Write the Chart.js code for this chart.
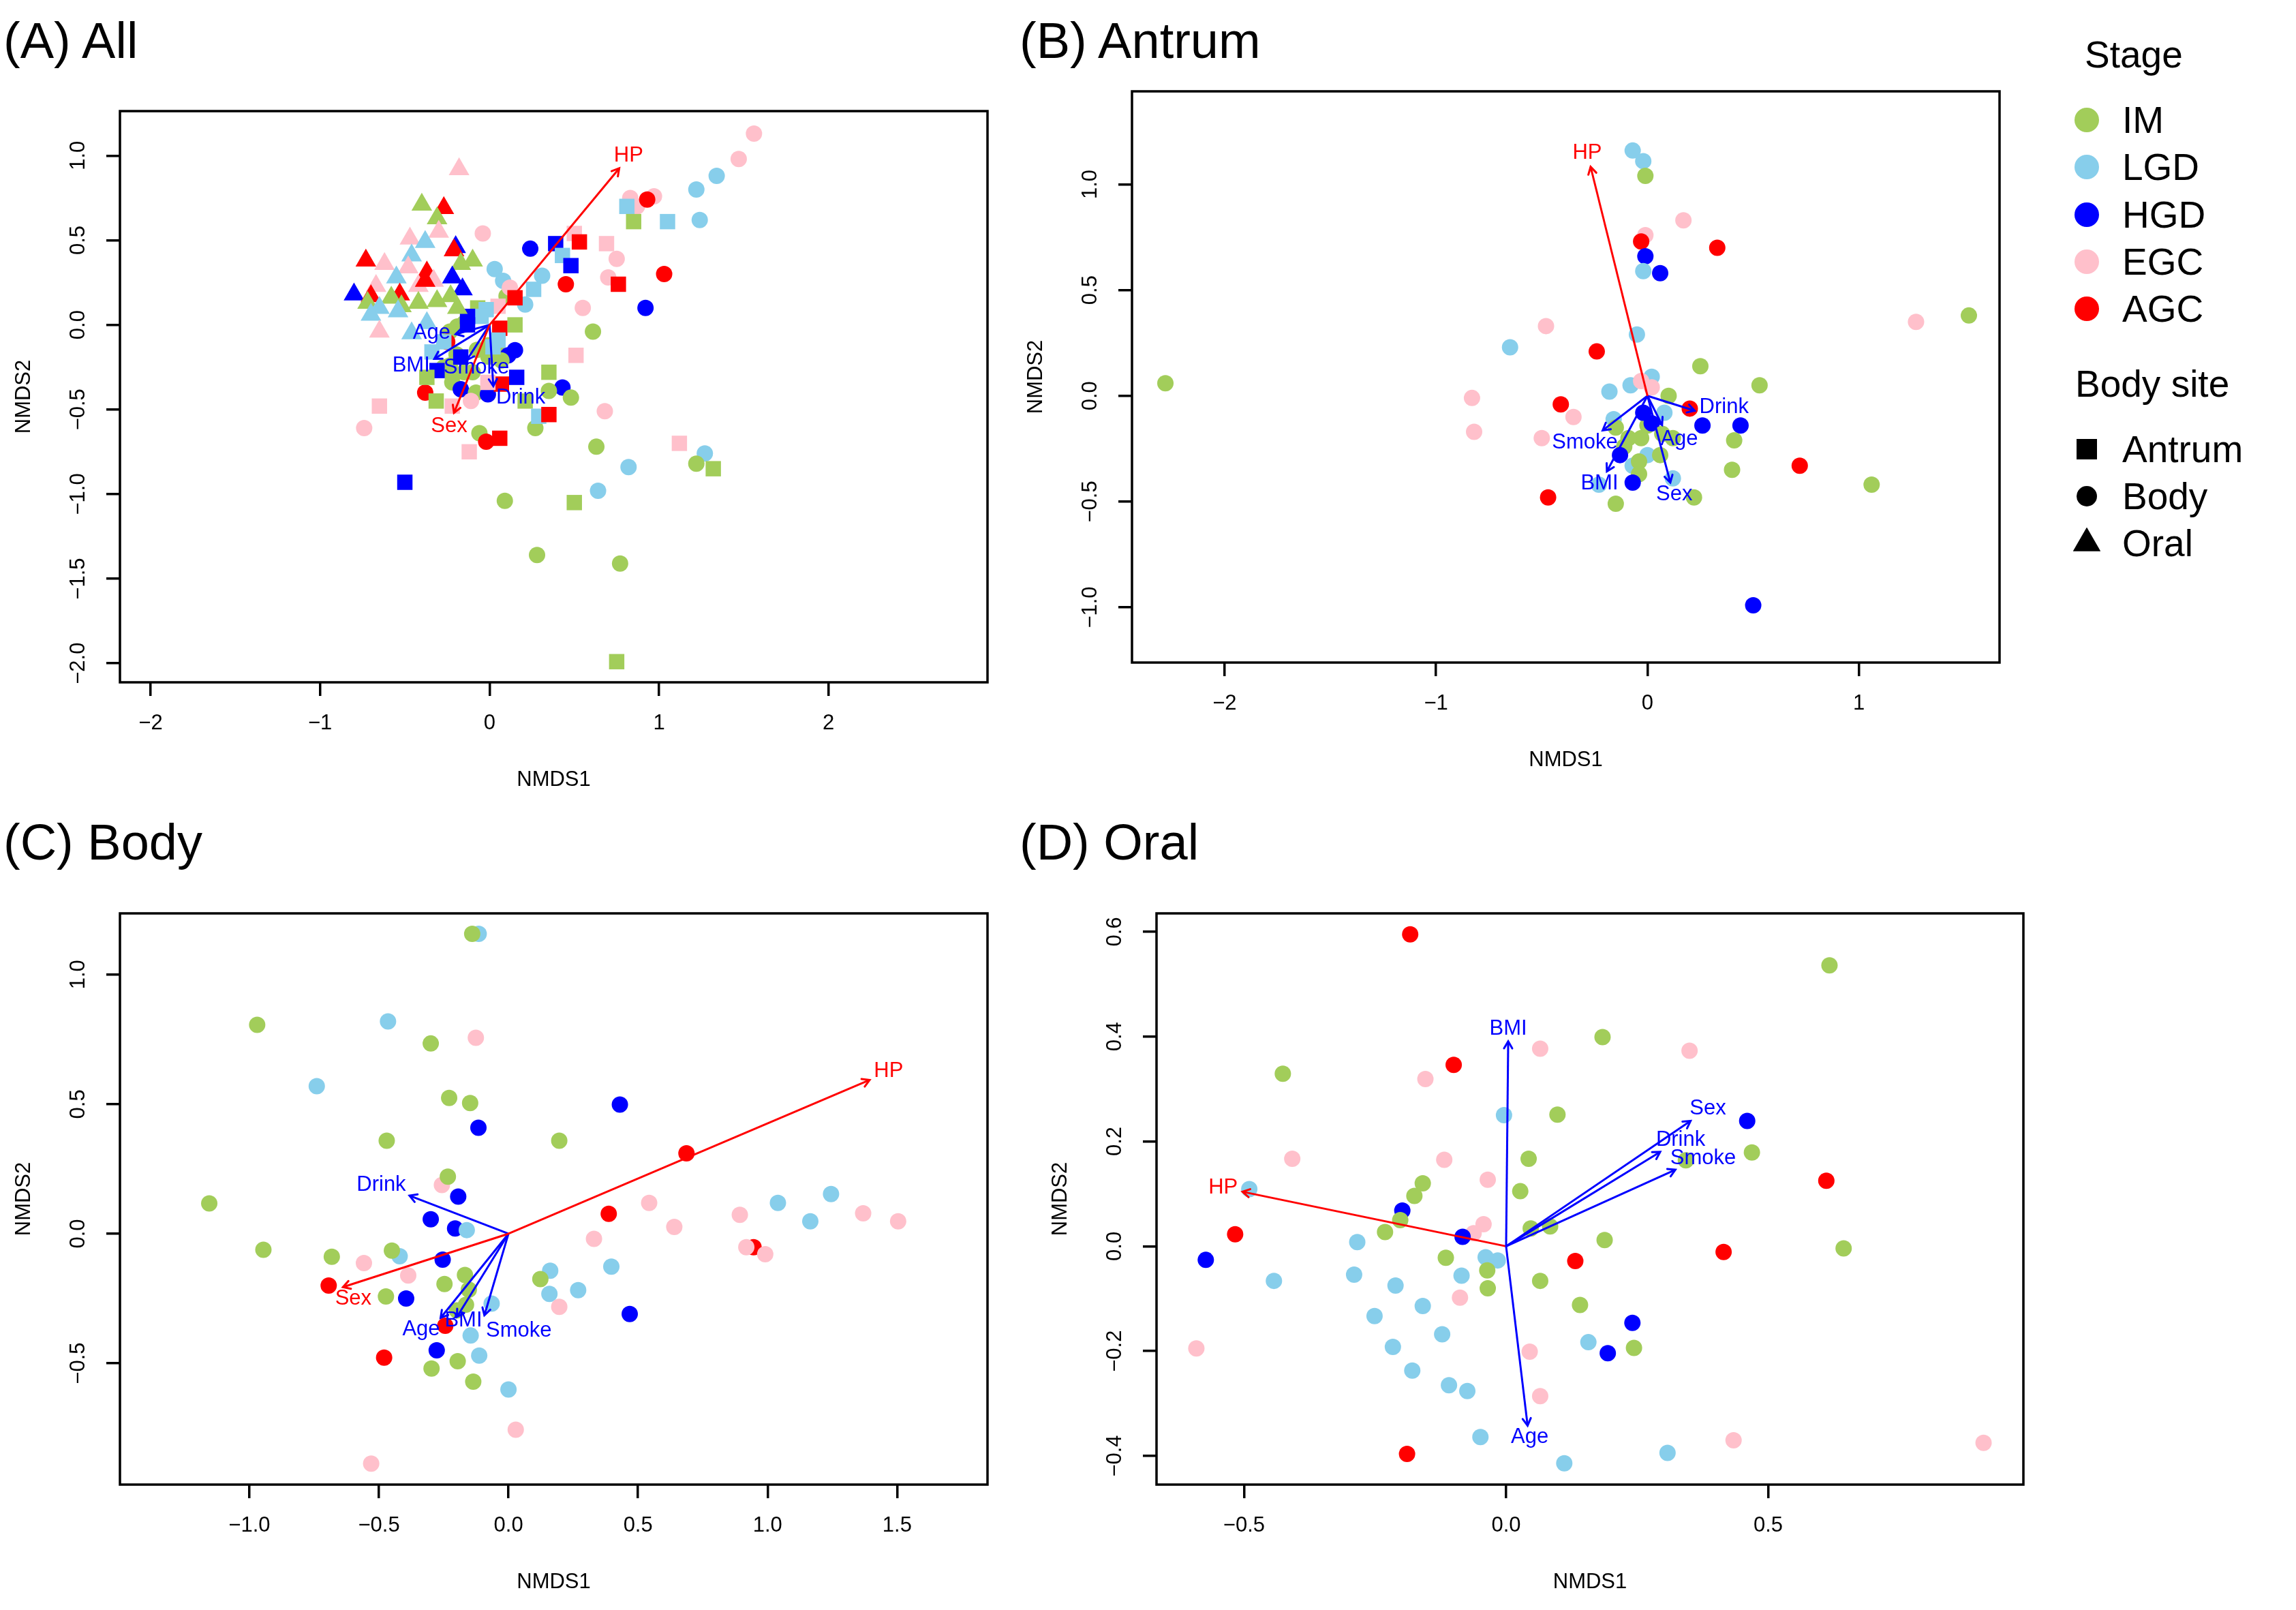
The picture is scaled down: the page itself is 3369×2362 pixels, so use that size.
<!DOCTYPE html>
<html>
<head>
<meta charset="utf-8">
<title>NMDS ordination by stage and body site</title>
<script src="https://cdn.jsdelivr.net/npm/chart.js@4.4.1/dist/chart.umd.min.js"></script>
<style>
  html, body { margin: 0; padding: 0; background: #fff; }
  #page { position: relative; width: 3369px; height: 2362px; overflow: hidden;
          font-family: "Liberation Sans", Arial, Helvetica, sans-serif; color: #000; }
  #page canvas { position: absolute; }
  .panel-title { position: absolute; font-size: 74px; line-height: 74px; white-space: nowrap; }
  .lg-text { position: absolute; font-size: 55px; line-height: 55px; white-space: nowrap; transform: translateY(-50%); }
  .lg-mark { position: absolute; }
</style>
</head>
<body>
<div id="page"></div>
<script>
// ---- data ----
const STAGES = ['IM', 'LGD', 'HGD', 'EGC', 'AGC'];
const SITES = ['Antrum', 'Body', 'Oral'];

// (A) All samples: [NMDS1, NMDS2, stage, site]
const ALL_POINTS = [
  [1.56, 1.13, 'EGC', 'Body'], [1.47, 0.98, 'EGC', 'Body'], [1.34, 0.88, 'LGD', 'Body'],
  [1.22, 0.80, 'LGD', 'Body'], [1.24, 0.62, 'LGD', 'Body'], [0.83, 0.75, 'EGC', 'Body'],
  [0.97, 0.76, 'EGC', 'Body'], [0.87, 0.70, 'EGC', 'Body'], [0.93, 0.74, 'AGC', 'Body'],
  [-0.04, 0.54, 'EGC', 'Body'], [0.24, 0.45, 'HGD', 'Body'], [0.75, 0.39, 'EGC', 'Body'],
  [1.03, 0.30, 'AGC', 'Body'], [0.70, 0.28, 'EGC', 'Body'], [0.45, 0.24, 'AGC', 'Body'],
  [0.31, 0.29, 'LGD', 'Body'], [0.03, 0.33, 'LGD', 'Body'], [0.08, 0.26, 'LGD', 'Body'],
  [0.10, 0.17, 'IM', 'Body'], [0.12, 0.22, 'EGC', 'Body'], [0.21, 0.12, 'LGD', 'Body'],
  [0.55, 0.10, 'EGC', 'Body'], [0.92, 0.10, 'HGD', 'Body'], [0.61, -0.04, 'IM', 'Body'],
  [-0.19, -0.01, 'IM', 'Body'], [-0.15, 0.01, 'IM', 'Body'], [-0.235, -0.04, 'IM', 'Body'],
  [0.047, -0.08, 'LGD', 'Body'], [0.047, -0.148, 'LGD', 'Body'], [-0.007, -0.12, 'IM', 'Body'],
  [-0.074, -0.148, 'IM', 'Body'], [-0.195, -0.175, 'IM', 'Body'], [-0.007, -0.188, 'IM', 'Body'],
  [0.05, -0.15, 'IM', 'Body'], [0.15, -0.15, 'HGD', 'Body'], [0.11, -0.18, 'HGD', 'Body'],
  [0.07, -0.21, 'IM', 'Body'], [-0.27, -0.25, 'IM', 'Body'], [-0.235, -0.24, 'IM', 'Body'],
  [-0.22, -0.30, 'IM', 'Body'], [-0.15, -0.28, 'IM', 'Body'], [-0.10, -0.28, 'IM', 'Body'],
  [-0.22, -0.34, 'IM', 'Body'], [-0.17, -0.38, 'HGD', 'Body'], [-0.08, -0.40, 'IM', 'Body'],
  [-0.01, -0.41, 'HGD', 'Body'], [-0.11, -0.45, 'EGC', 'Body'], [-0.25, -0.10, 'AGC', 'Body'],
  [-0.38, -0.40, 'AGC', 'Body'], [0.43, -0.37, 'HGD', 'Body'], [0.35, -0.39, 'IM', 'Body'],
  [0.48, -0.43, 'IM', 'Body'], [0.68, -0.51, 'EGC', 'Body'], [0.27, -0.61, 'IM', 'Body'],
  [-0.06, -0.64, 'IM', 'Body'], [-0.02, -0.69, 'AGC', 'Body'], [0.63, -0.72, 'IM', 'Body'],
  [0.82, -0.84, 'LGD', 'Body'], [1.27, -0.76, 'LGD', 'Body'], [1.22, -0.82, 'IM', 'Body'],
  [0.64, -0.98, 'LGD', 'Body'], [0.09, -1.04, 'IM', 'Body'], [0.28, -1.36, 'IM', 'Body'],
  [0.77, -1.41, 'IM', 'Body'], [-0.74, -0.61, 'EGC', 'Body'],
  [0.50, 0.54, 'EGC', 'Antrum'], [0.39, 0.48, 'HGD', 'Antrum'], [0.53, 0.49, 'AGC', 'Antrum'],
  [0.43, 0.41, 'LGD', 'Antrum'], [0.48, 0.35, 'HGD', 'Antrum'], [0.69, 0.48, 'EGC', 'Antrum'],
  [0.76, 0.24, 'AGC', 'Antrum'], [0.81, 0.70, 'LGD', 'Antrum'], [0.85, 0.61, 'IM', 'Antrum'],
  [1.05, 0.61, 'LGD', 'Antrum'], [0.26, 0.21, 'LGD', 'Antrum'], [0.15, 0.16, 'AGC', 'Antrum'],
  [0.05, 0.11, 'EGC', 'Antrum'], [-0.07, 0.10, 'IM', 'Antrum'], [-0.02, 0.09, 'LGD', 'Antrum'],
  [-0.05, 0.05, 'LGD', 'Antrum'], [-0.13, 0.05, 'HGD', 'Antrum'], [-0.13, 0.00, 'HGD', 'Antrum'],
  [0.15, 0.00, 'IM', 'Antrum'], [0.06, -0.02, 'AGC', 'Antrum'], [0.05, -0.09, 'LGD', 'Antrum'],
  [0.02, -0.13, 'LGD', 'Antrum'], [-0.27, -0.10, 'LGD', 'Antrum'], [-0.34, -0.16, 'LGD', 'Antrum'],
  [-0.17, -0.19, 'HGD', 'Antrum'], [-0.31, -0.27, 'HGD', 'Antrum'], [-0.37, -0.31, 'IM', 'Antrum'],
  [0.16, -0.31, 'HGD', 'Antrum'], [0.35, -0.28, 'IM', 'Antrum'], [0.07, -0.35, 'AGC', 'Antrum'],
  [-0.01, -0.34, 'EGC', 'Antrum'], [0.21, -0.45, 'IM', 'Antrum'], [0.29, -0.54, 'LGD', 'Antrum'],
  [0.35, -0.53, 'AGC', 'Antrum'], [0.06, -0.67, 'AGC', 'Antrum'], [-0.12, -0.75, 'EGC', 'Antrum'],
  [-0.22, -0.48, 'EGC', 'Antrum'], [-0.315, -0.45, 'IM', 'Antrum'], [-0.65, -0.48, 'EGC', 'Antrum'],
  [-0.50, -0.93, 'HGD', 'Antrum'], [0.51, -0.18, 'EGC', 'Antrum'], [1.12, -0.70, 'EGC', 'Antrum'],
  [1.32, -0.85, 'IM', 'Antrum'], [0.50, -1.05, 'IM', 'Antrum'], [0.75, -1.99, 'IM', 'Antrum'],
  [-0.18, 0.92, 'EGC', 'Oral'], [-0.40, 0.71, 'IM', 'Oral'], [-0.27, 0.69, 'AGC', 'Oral'],
  [-0.31, 0.63, 'IM', 'Oral'], [-0.47, 0.51, 'EGC', 'Oral'], [-0.30, 0.55, 'EGC', 'Oral'],
  [-0.38, 0.49, 'LGD', 'Oral'], [-0.20, 0.46, 'HGD', 'Oral'], [-0.21, 0.44, 'AGC', 'Oral'],
  [-0.46, 0.41, 'LGD', 'Oral'], [-0.73, 0.38, 'AGC', 'Oral'], [-0.62, 0.36, 'EGC', 'Oral'],
  [-0.10, 0.38, 'IM', 'Oral'], [-0.17, 0.36, 'IM', 'Oral'], [-0.48, 0.34, 'EGC', 'Oral'],
  [-0.37, 0.31, 'AGC', 'Oral'], [-0.55, 0.28, 'LGD', 'Oral'], [-0.22, 0.28, 'HGD', 'Oral'],
  [-0.67, 0.23, 'EGC', 'Oral'], [-0.42, 0.23, 'EGC', 'Oral'], [-0.33, 0.26, 'EGC', 'Oral'],
  [-0.38, 0.26, 'AGC', 'Oral'], [-0.16, 0.21, 'HGD', 'Oral'], [-0.80, 0.18, 'HGD', 'Oral'],
  [-0.53, 0.18, 'AGC', 'Oral'], [-0.70, 0.17, 'AGC', 'Oral'], [-0.23, 0.17, 'IM', 'Oral'],
  [-0.58, 0.16, 'IM', 'Oral'], [-0.31, 0.14, 'IM', 'Oral'], [-0.72, 0.13, 'IM', 'Oral'],
  [-0.42, 0.13, 'IM', 'Oral'], [-0.52, 0.11, 'IM', 'Oral'], [-0.65, 0.10, 'LGD', 'Oral'],
  [-0.19, 0.10, 'IM', 'Oral'], [-0.54, 0.08, 'LGD', 'Oral'], [-0.70, 0.06, 'LGD', 'Oral'],
  [-0.37, 0.01, 'LGD', 'Oral'], [-0.65, -0.04, 'EGC', 'Oral'], [-0.46, -0.05, 'LGD', 'Oral']
];

// (B) Antrum: [NMDS1, NMDS2, stage]
const ANTRUM_POINTS = [
  [-2.28, 0.06, 'IM'], [-0.07, 1.16, 'LGD'], [-0.02, 1.11, 'LGD'], [-0.01, 1.04, 'IM'],
  [0.17, 0.83, 'EGC'], [-0.01, 0.76, 'EGC'], [-0.03, 0.73, 'AGC'], [0.33, 0.70, 'AGC'],
  [-0.01, 0.66, 'HGD'], [-0.02, 0.59, 'LGD'], [0.06, 0.58, 'HGD'], [1.27, 0.35, 'EGC'],
  [1.52, 0.38, 'IM'], [-0.48, 0.33, 'EGC'], [-0.65, 0.23, 'LGD'], [-0.05, 0.29, 'LGD'],
  [-0.24, 0.21, 'AGC'], [0.25, 0.14, 'IM'], [0.53, 0.05, 'IM'], [0.02, 0.09, 'LGD'],
  [-0.08, 0.05, 'LGD'], [-0.03, 0.07, 'EGC'], [0.02, 0.04, 'EGC'], [-0.18, 0.02, 'LGD'],
  [0.10, 0.00, 'IM'], [-0.83, -0.01, 'EGC'], [-0.41, -0.04, 'AGC'], [-0.35, -0.10, 'EGC'],
  [-0.82, -0.17, 'EGC'], [-0.50, -0.20, 'EGC'], [0.20, -0.06, 'AGC'], [0.26, -0.14, 'HGD'],
  [0.44, -0.14, 'HGD'], [0.08, -0.08, 'LGD'], [-0.16, -0.11, 'LGD'], [-0.15, -0.15, 'IM'],
  [0.00, -0.14, 'IM'], [-0.02, -0.08, 'HGD'], [0.02, -0.13, 'HGD'], [-0.03, -0.20, 'IM'],
  [-0.09, -0.20, 'IM'], [0.12, -0.20, 'IM'], [0.07, -0.18, 'IM'], [0.41, -0.21, 'IM'],
  [0.40, -0.35, 'IM'], [-0.11, -0.24, 'IM'], [0.00, -0.28, 'LGD'], [0.06, -0.28, 'IM'],
  [-0.13, -0.28, 'HGD'], [-0.07, -0.33, 'LGD'], [-0.04, -0.31, 'IM'], [-0.04, -0.37, 'IM'],
  [-0.07, -0.41, 'HGD'], [0.12, -0.39, 'LGD'], [-0.23, -0.42, 'LGD'], [-0.15, -0.51, 'IM'],
  [0.22, -0.48, 'IM'], [-0.47, -0.48, 'AGC'], [0.72, -0.33, 'AGC'], [1.06, -0.42, 'IM'],
  [0.50, -0.99, 'HGD']
];

// (C) Body
const BODY_POINTS = [
  [-0.115, 1.157, 'LGD'], [-0.14, 1.157, 'IM'], [-0.97, 0.806, 'IM'], [-0.465, 0.819, 'LGD'],
  [-0.126, 0.756, 'EGC'], [-0.30, 0.734, 'IM'], [-0.74, 0.569, 'LGD'], [-0.229, 0.524, 'IM'],
  [-0.148, 0.504, 'IM'], [0.43, 0.498, 'HGD'], [-0.116, 0.409, 'HGD'], [-0.47, 0.359, 'IM'],
  [0.196, 0.359, 'IM'], [0.687, 0.31, 'AGC'], [-0.257, 0.188, 'EGC'], [-0.234, 0.22, 'IM'],
  [-0.194, 0.143, 'HGD'], [-1.155, 0.117, 'IM'], [1.245, 0.153, 'LGD'], [1.04, 0.119, 'LGD'],
  [0.543, 0.119, 'EGC'], [0.387, 0.077, 'AGC'], [0.893, 0.073, 'EGC'], [1.369, 0.079, 'EGC'],
  [1.165, 0.048, 'LGD'], [1.504, 0.048, 'EGC'], [0.64, 0.026, 'EGC'], [-0.30, 0.056, 'HGD'],
  [-0.206, 0.02, 'HGD'], [-0.161, 0.014, 'LGD'], [0.33, -0.02, 'EGC'], [-0.946, -0.062, 'IM'],
  [0.946, -0.052, 'AGC'], [0.918, -0.052, 'EGC'], [0.991, -0.079, 'EGC'], [-0.682, -0.089, 'IM'],
  [-0.42, -0.087, 'LGD'], [-0.45, -0.065, 'IM'], [-0.558, -0.113, 'EGC'], [-0.254, -0.10, 'HGD'],
  [-0.387, -0.161, 'EGC'], [-0.168, -0.159, 'IM'], [0.161, -0.143, 'LGD'], [0.123, -0.175, 'IM'],
  [0.397, -0.127, 'LGD'], [-0.247, -0.194, 'IM'], [-0.694, -0.20, 'AGC'], [0.269, -0.218, 'LGD'],
  [0.158, -0.232, 'LGD'], [-0.153, -0.216, 'IM'], [-0.473, -0.242, 'IM'], [-0.395, -0.25, 'HGD'],
  [-0.065, -0.27, 'LGD'], [0.196, -0.282, 'EGC'], [-0.164, -0.274, 'IM'], [-0.199, -0.296, 'IM'],
  [0.468, -0.31, 'HGD'], [-0.244, -0.355, 'AGC'], [-0.146, -0.393, 'LGD'], [-0.277, -0.45, 'HGD'],
  [-0.48, -0.478, 'AGC'], [-0.113, -0.47, 'LGD'], [-0.297, -0.52, 'IM'], [-0.196, -0.492, 'IM'],
  [-0.136, -0.571, 'IM'], [0.0, -0.601, 'LGD'], [0.028, -0.756, 'EGC'], [-0.53, -0.887, 'EGC']
];

// (D) Oral
const ORAL_POINTS = [
  [-0.183, 0.595, 'AGC'], [0.617, 0.536, 'IM'], [0.184, 0.399, 'IM'], [0.065, 0.377, 'EGC'],
  [0.350, 0.373, 'EGC'], [-0.426, 0.329, 'IM'], [-0.100, 0.346, 'AGC'], [-0.154, 0.319, 'EGC'],
  [-0.004, 0.250, 'LGD'], [0.098, 0.251, 'IM'], [0.460, 0.239, 'HGD'], [0.469, 0.179, 'IM'],
  [0.343, 0.164, 'IM'], [-0.408, 0.167, 'EGC'], [-0.118, 0.165, 'EGC'], [0.043, 0.167, 'IM'],
  [0.027, 0.105, 'IM'], [-0.159, 0.120, 'IM'], [-0.175, 0.096, 'IM'], [-0.035, 0.127, 'EGC'],
  [0.611, 0.125, 'AGC'], [-0.490, 0.109, 'LGD'], [-0.198, 0.068, 'HGD'], [-0.202, 0.050, 'IM'],
  [-0.043, 0.042, 'EGC'], [-0.062, 0.025, 'EGC'], [-0.083, 0.018, 'HGD'], [-0.231, 0.027, 'IM'],
  [0.047, 0.034, 'IM'], [0.084, 0.038, 'IM'], [0.188, 0.012, 'IM'], [-0.517, 0.023, 'AGC'],
  [-0.284, 0.008, 'LGD'], [-0.573, -0.026, 'HGD'], [0.644, -0.004, 'IM'], [0.415, -0.011, 'AGC'],
  [-0.115, -0.022, 'IM'], [-0.039, -0.021, 'LGD'], [-0.016, -0.027, 'LGD'], [0.132, -0.028, 'AGC'],
  [-0.290, -0.054, 'LGD'], [-0.085, -0.056, 'LGD'], [-0.036, -0.046, 'IM'], [-0.443, -0.066, 'LGD'],
  [-0.211, -0.075, 'LGD'], [0.065, -0.066, 'IM'], [-0.035, -0.080, 'IM'], [-0.088, -0.098, 'EGC'],
  [-0.159, -0.114, 'LGD'], [0.141, -0.112, 'IM'], [-0.251, -0.133, 'LGD'], [0.241, -0.146, 'HGD'],
  [-0.122, -0.168, 'LGD'], [0.157, -0.183, 'LGD'], [-0.591, -0.195, 'EGC'], [-0.216, -0.192, 'LGD'],
  [0.244, -0.194, 'IM'], [0.045, -0.201, 'EGC'], [0.194, -0.204, 'HGD'], [-0.179, -0.237, 'LGD'],
  [-0.109, -0.265, 'LGD'], [-0.074, -0.276, 'LGD'], [0.065, -0.286, 'EGC'], [-0.049, -0.364, 'LGD'],
  [0.434, -0.370, 'EGC'], [0.911, -0.375, 'EGC'], [-0.189, -0.396, 'AGC'], [0.308, -0.394, 'LGD'],
  [0.111, -0.414, 'LGD']
];

// fitted environmental vectors: [variable, NMDS1, NMDS2, label NMDS1, label NMDS2]
const ALL_VECTORS = [
  ['HP', 0.765, 0.925, 0.82, 1.0], ['Sex', -0.21, -0.52, -0.239, -0.60],
  ['Age', -0.20, -0.055, -0.342, -0.047], ['BMI', -0.326, -0.201, -0.463, -0.242],
  ['Smoke', -0.134, -0.208, -0.078, -0.255], ['Drink', 0.022, -0.362, 0.184, -0.43]
];
const ANTRUM_VECTORS = [
  ['HP', -0.269, 1.083, -0.285, 1.148], ['Drink', 0.223, -0.070, 0.362, -0.053],
  ['Age', 0.069, -0.138, 0.150, -0.204], ['Smoke', -0.212, -0.163, -0.296, -0.221],
  ['BMI', -0.192, -0.357, -0.227, -0.415], ['Sex', 0.108, -0.410, 0.127, -0.466]
];
const BODY_VECTORS = [
  ['HP', 1.394, 0.593, 1.467, 0.627], ['Sex', -0.639, -0.206, -0.599, -0.252],
  ['Drink', -0.382, 0.147, -0.491, 0.187], ['Age', -0.262, -0.325, -0.337, -0.369],
  ['BMI', -0.199, -0.321, -0.174, -0.335], ['Smoke', -0.093, -0.315, 0.040, -0.375]
];
const ORAL_VECTORS = [
  ['BMI', 0.004, 0.391, 0.004, 0.415], ['Age', 0.041, -0.342, 0.045, -0.364],
  ['HP', -0.503, 0.104, -0.540, 0.112], ['Sex', 0.352, 0.239, 0.385, 0.263],
  ['Drink', 0.294, 0.180, 0.333, 0.203], ['Smoke', 0.323, 0.146, 0.376, 0.168]
];
// significant vectors are drawn in red
const ALL_SIGNIF = ['HP', 'Sex'];
const ANTRUM_SIGNIF = ['HP'];
const BODY_SIGNIF = ['HP', 'Sex'];
const ORAL_SIGNIF = ['HP'];

// tick labels
const ALL_X_TICKS = [-2, -1, 0, 1, 2];
const ALL_Y_TICKS = [-2, -1.5, -1, -0.5, 0, 0.5, 1];
const ANTRUM_X_TICKS = [-2, -1, 0, 1];
const ANTRUM_Y_TICKS = [-1, -0.5, 0, 0.5, 1];
const BODY_X_TICKS = [-1, -0.5, 0, 0.5, 1, 1.5];
const BODY_Y_TICKS = [-0.5, 0, 0.5, 1];
const ORAL_X_TICKS = [-0.5, 0, 0.5];
const ORAL_Y_TICKS = [-0.4, -0.2, 0, 0.2, 0.4, 0.6];

// ---- styling ----
const STAGE_COLORS = { IM: '#A2CD5A', LGD: '#87CEEB', HGD: '#0000FF', EGC: '#FFC0CB', AGC: '#FF0000' };
const SITE_SHAPES = { Antrum: 'rect', Body: 'circle', Oral: 'triangle' };
const SITE_RADIUS = { Antrum: 15.9, Body: 12, Oral: 17.5 };
const FONT_FAMILY = '"Liberation Sans", Arial, Helvetica, sans-serif';
const AXIS_FONT = { family: FONT_FAMILY, size: 31 };

const YAXIS_W = 176, XAXIS_H = 184, PAD_T = 60, PAD_R = 60;

const panels = [
  { title: '(A) All', titleX: 5, baseline: 86, points: ALL_POINTS, vectors: ALL_VECTORS, signif: ALL_SIGNIF,
    xTicks: ALL_X_TICKS, yTicks: ALL_Y_TICKS, xDec: 0, yDec: 1,
    xMin: -2.181, xMax: 2.938, yMin: -2.112, yMax: 1.263, box: [176, 163, 1449, 1001] },
  { title: '(B) Antrum', titleX: 1496, baseline: 86, points: ANTRUM_POINTS, vectors: ANTRUM_VECTORS, signif: ANTRUM_SIGNIF,
    xTicks: ANTRUM_X_TICKS, yTicks: ANTRUM_Y_TICKS, xDec: 0, yDec: 1,
    xMin: -2.438, xMax: 1.665, yMin: -1.261, yMax: 1.44, box: [1661, 134, 2934, 972] },
  { title: '(C) Body', titleX: 5, baseline: 1262, points: BODY_POINTS, vectors: BODY_VECTORS, signif: BODY_SIGNIF,
    xTicks: BODY_X_TICKS, yTicks: BODY_Y_TICKS, xDec: 1, yDec: 1,
    xMin: -1.4997, xMax: 1.849, yMin: -0.968, yMax: 1.236, box: [176, 1340, 1449, 2178] },
  { title: '(D) Oral', titleX: 1496, baseline: 1262, points: ORAL_POINTS, vectors: ORAL_VECTORS, signif: ORAL_SIGNIF,
    xTicks: ORAL_X_TICKS, yTicks: ORAL_Y_TICKS, xDec: 1, yDec: 1,
    xMin: -0.667, xMax: 0.987, yMin: -0.4546, yMax: 0.635, box: [1697, 1340, 2969, 2178] }
];

const page = document.getElementById('page');

function fmt(v, dec) {
  return (v < 0 ? '\u2212' : '') + Math.abs(v).toFixed(dec);
}

function axis(ticks, dec, min, max, isX) {
  return {
    type: 'linear', min: min, max: max, bounds: 'data',
    afterBuildTicks: ax => { ax.ticks = ticks.map(v => ({ value: v })); },
    afterFit: ax => { if (isX) ax.height = XAXIS_H; else ax.width = YAXIS_W; },
    grid: { display: true, drawOnChartArea: false, drawTicks: true, tickLength: 20, color: '#000', lineWidth: 3.5 },
    border: { display: false },
    ticks: isX
      ? { autoSkip: false, minRotation: 0, maxRotation: 0, padding: 22, color: '#000', font: AXIS_FONT,
          callback: v => fmt(v, dec) }
      : { autoSkip: false, minRotation: 90, maxRotation: 90, crossAlign: 'center', padding: 10, color: '#000',
          font: AXIS_FONT, callback: v => fmt(v, dec) },
    title: isX
      ? { display: true, text: 'NMDS1', color: '#000', font: AXIS_FONT, padding: { top: 0, bottom: 22 } }
      : { display: true, text: 'NMDS2', color: '#000', font: AXIS_FONT, padding: { top: 17, bottom: 0 } }
  };
}

function makePanel(p) {
  const w = p.box[2] - p.box[0], h = p.box[3] - p.box[1];
  const canvas = document.createElement('canvas');
  canvas.width = YAXIS_W + w + PAD_R;
  canvas.height = PAD_T + h + XAXIS_H;
  canvas.style.left = (p.box[0] - YAXIS_W) + 'px';
  canvas.style.top = (p.box[1] - PAD_T) + 'px';
  canvas.style.width = canvas.width + 'px';
  canvas.style.height = canvas.height + 'px';
  page.appendChild(canvas);

  const title = document.createElement('div');
  title.className = 'panel-title';
  title.textContent = p.title;
  title.style.left = p.titleX + 'px';
  title.style.top = (p.baseline - 62.6) + 'px';
  page.appendChild(title);

  const vecColor = name => p.signif.includes(name) ? '#FF0000' : '#0000FF';
  const siteOf = r => r[3] || 'Body';

  // arrowheads, vector labels and the plot frame
  const rPlot = {
    id: 'rPlot',
    afterDatasetsDraw(chart) {
      const { ctx, scales: { x, y } } = chart;
      const x0 = x.getPixelForValue(0), y0 = y.getPixelForValue(0);
      ctx.save();
      ctx.lineWidth = 3;
      ctx.lineCap = 'round';
      ctx.font = '31px ' + FONT_FAMILY;
      ctx.textAlign = 'center';
      ctx.textBaseline = 'middle';
      p.vectors.forEach(v => {
        const col = vecColor(v[0]);
        const x1 = x.getPixelForValue(v[1]), y1 = y.getPixelForValue(v[2]);
        const a = Math.atan2(y1 - y0, x1 - x0), len = 12;
        ctx.strokeStyle = col;
        ctx.beginPath();
        ctx.moveTo(x1 - len * Math.cos(a - Math.PI / 6), y1 - len * Math.sin(a - Math.PI / 6));
        ctx.lineTo(x1, y1);
        ctx.lineTo(x1 - len * Math.cos(a + Math.PI / 6), y1 - len * Math.sin(a + Math.PI / 6));
        ctx.stroke();
        ctx.fillStyle = col;
        ctx.fillText(v[0], x.getPixelForValue(v[3]), y.getPixelForValue(v[4]));
      });
      ctx.restore();
    },
    afterDraw(chart) {
      const { ctx, chartArea: c } = chart;
      ctx.save();
      ctx.strokeStyle = '#000';
      ctx.lineWidth = 3.5;
      ctx.strokeRect(c.left, c.top, c.right - c.left, c.bottom - c.top);
      ctx.restore();
    }
  };

  const datasets = p.vectors.map(v => ({
    data: [{ x: 0, y: 0 }, { x: v[1], y: v[2] }],
    showLine: true, borderColor: vecColor(v[0]), borderWidth: 3,
    pointRadius: 0, order: 0, clip: false
  }));
  datasets.push({
    data: p.points.map(r => ({ x: r[0], y: r[1] })),
    showLine: false,
    pointStyle: p.points.map(r => SITE_SHAPES[siteOf(r)]),
    pointRadius: p.points.map(r => SITE_RADIUS[siteOf(r)]),
    pointBackgroundColor: p.points.map(r => STAGE_COLORS[r[2]]),
    pointBorderWidth: 0,
    order: 1, clip: false
  });

  new Chart(canvas, {
    type: 'scatter',
    data: { datasets: datasets },
    options: {
      responsive: false, animation: false, devicePixelRatio: 1, events: [],
      layout: { padding: { top: PAD_T, right: PAD_R, left: 0, bottom: 0 } },
      plugins: { legend: { display: false }, tooltip: { enabled: false } },
      scales: {
        x: axis(p.xTicks, p.xDec, p.xMin, p.xMax, true),
        y: axis(p.yTicks, p.yDec, p.yMin, p.yMax, false)
      }
    },
    plugins: [rPlot]
  });
}

panels.forEach(makePanel);

// ---- legend on the right ----
function legendText(txt, left, cy) {
  const d = document.createElement('div');
  d.className = 'lg-text';
  d.textContent = txt;
  d.style.left = left + 'px';
  d.style.top = cy + 'px';
  page.appendChild(d);
}
function legendMark(shape, color, cx, cy, size) {
  const d = document.createElement('div');
  d.className = 'lg-mark';
  d.style.background = color;
  if (shape === 'triangle') {
    const w = size, h = size * 0.866;
    d.style.width = w + 'px';
    d.style.height = h + 'px';
    d.style.left = (cx - w / 2) + 'px';
    d.style.top = (cy - h * 2 / 3) + 'px';
    d.style.clipPath = 'polygon(50% 0, 100% 100%, 0 100%)';
  } else {
    d.style.width = size + 'px';
    d.style.height = size + 'px';
    d.style.left = (cx - size / 2) + 'px';
    d.style.top = (cy - size / 2) + 'px';
    if (shape === 'circle') d.style.borderRadius = '50%';
  }
  page.appendChild(d);
}

legendText('Stage', 3059, 80);
STAGES.forEach((s, i) => {
  const cy = 176 + i * 69.25;
  legendMark('circle', STAGE_COLORS[s], 3062, cy, 36);
  legendText(s, 3114, cy);
});
legendText('Body site', 3045, 563);
const SITE_MARK_SIZE = { Antrum: 30.5, Body: 30.5, Oral: 40.6 };
SITES.forEach((s, i) => {
  const cy = 659 + i * 69;
  legendMark(SITE_SHAPES[s] === 'rect' ? 'square' : SITE_SHAPES[s], '#000', 3062, cy, SITE_MARK_SIZE[s]);
  legendText(s, 3114, cy);
});
</script>
</body>
</html>
